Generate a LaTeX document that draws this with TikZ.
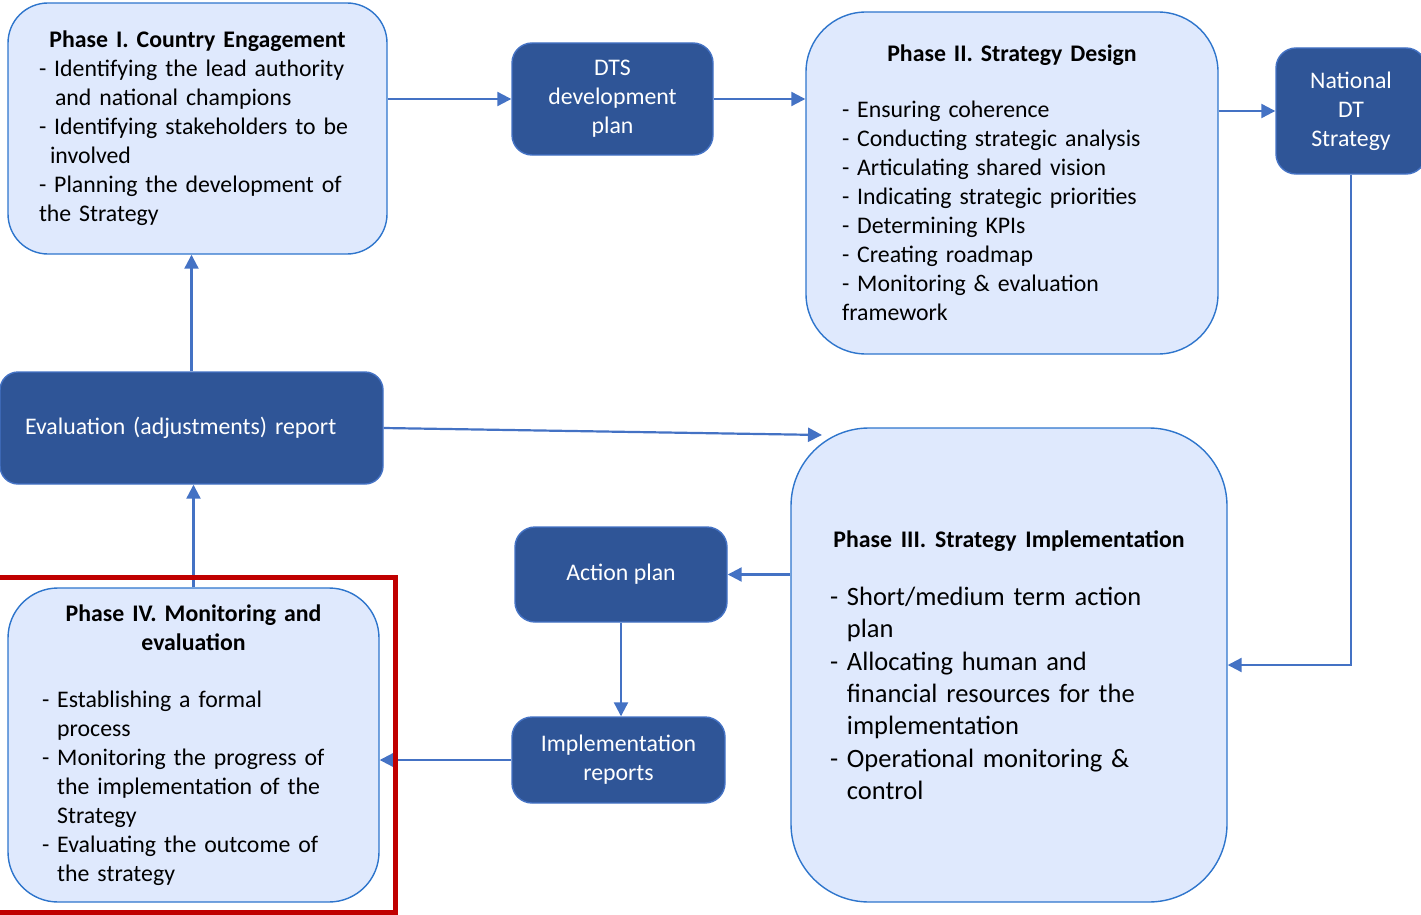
\documentclass[tikz,border=0pt]{standalone}
\usepackage{fontspec}
\setmainfont{Carlito}
\usetikzlibrary{arrows.meta}
\definecolor{lineblue}{HTML}{4472C4}
\definecolor{phasefill}{HTML}{DFE9FD}
\definecolor{phaseedge}{HTML}{2E75CC}
\definecolor{darkfill}{HTML}{2F5597}
\definecolor{darkedge}{HTML}{4472C4}
\definecolor{framered}{HTML}{C00000}
\newcommand{\hangdash}{\phantom{- }}
\begin{document}
\begin{tikzpicture}[x=1pt,y=-1pt,
  phase/.style={draw=phaseedge,fill=phasefill,line width=1.4pt,align=left,inner sep=0pt,font=\fontsize{23.8}{29}\selectfont},
  darkbox/.style={draw=darkedge,fill=darkfill,line width=1.4pt,rounded corners=20pt,inner sep=0pt,text=white,align=center,font=\fontsize{23.8}{29}\selectfont},
  flow/.style={draw=lineblue,line width=2.2pt,-{Triangle[length=14pt,width=14pt]}}]
\useasboundingbox (0,0) rectangle (1421,915);
%phase boxes
\node[phase,rounded corners=40pt,minimum width=379pt,minimum height=251pt,text width=317pt](p1) at (197.5,128.5){%
\makebox[\linewidth]{\bfseries Phase I. Country Engagement}\\
- Identifying the lead authority\\
\hspace*{16pt}and national champions\\
- Identifying stakeholders to be\\
\hspace*{11pt}involved\\
- Planning the development of\\
the Strategy};
\node[phase,rounded corners=60pt,minimum width=412pt,minimum height=342pt,text width=340pt](p2) at (1012,183){%
\makebox[\linewidth]{\bfseries Phase II. Strategy Design}\\[27pt]
- Ensuring coherence\\
- Conducting strategic analysis\\
- Articulating shared vision\\
- Indicating strategic priorities\\
- Determining KPIs\\
- Creating roadmap\\
- Monitoring \& evaluation\\
framework};
\node[phase,rounded corners=78pt,minimum width=436pt,minimum height=474pt,text width=358pt,font=\fontsize{26.5}{32.3}\selectfont](p3) at (1009,665){%
\makebox[\linewidth]{\fontsize{23.8}{29}\selectfont\bfseries Phase III. Strategy Implementation}\\[26pt]
- Short/medium term action\\
\hangdash plan\\
- Allocating human and\\
\hangdash financial resources for the\\
\hangdash implementation\\
- Operational monitoring \&\\
\hangdash control};
\node[phase,rounded corners=50pt,minimum width=371pt,minimum height=314pt,text width=303pt](p4) at (193.5,745){%
\makebox[\linewidth]{\bfseries Phase IV. Monitoring and}\\
\makebox[\linewidth]{\bfseries evaluation}\\[28pt]
- Establishing a formal\\
\hangdash process\\
- Monitoring the progress of\\
\hangdash the implementation of the\\
\hangdash Strategy\\
- Evaluating the outcome of\\
\hangdash the strategy};
%outputs
\node[darkbox,minimum width=201pt,minimum height=112pt](dts) at (612.5,99){DTS\\development\\plan};
\node[darkbox,minimum width=150pt,minimum height=126pt](nat) at (1351,111){National\\DT\\Strategy};
\node[darkbox,rounded corners=18pt,minimum width=383pt,minimum height=112pt,text width=333pt,align=left](ev) at (191.5,428){Evaluation (adjustments) report};
\node[darkbox,minimum width=212pt,minimum height=95pt](ap) at (621,574.5){Action plan};
\node[darkbox,minimum width=213pt,minimum height=86pt](ir) at (618.5,760){Implementation\\reports};
\coordinate(p3in) at (822,435);
%arrows
\draw[flow](p1.east|-dts.west)--(dts.west);
\draw[flow](dts.east)--(dts.east-|p2.west);
\draw[flow](p2.east|-nat.west)--(nat.west);
\draw[flow](nat.south)|-(p3.east);
\draw[flow](ap.east-|p3.west)--(ap.east);
\draw[flow](ap.south)--(ap.south|-ir.north);
\draw[flow](ir.west)--(ir.west-|p4.east);
\draw[flow](p4.north)--(p4.north|-ev.south);
\draw[flow](ev.north)--(ev.north|-p1.south);
\draw[flow](ev.east)--(p3in);
%highlight
\draw[framered,line width=5pt](-10,577) rectangle (395,912);
\end{tikzpicture}
\end{document}
